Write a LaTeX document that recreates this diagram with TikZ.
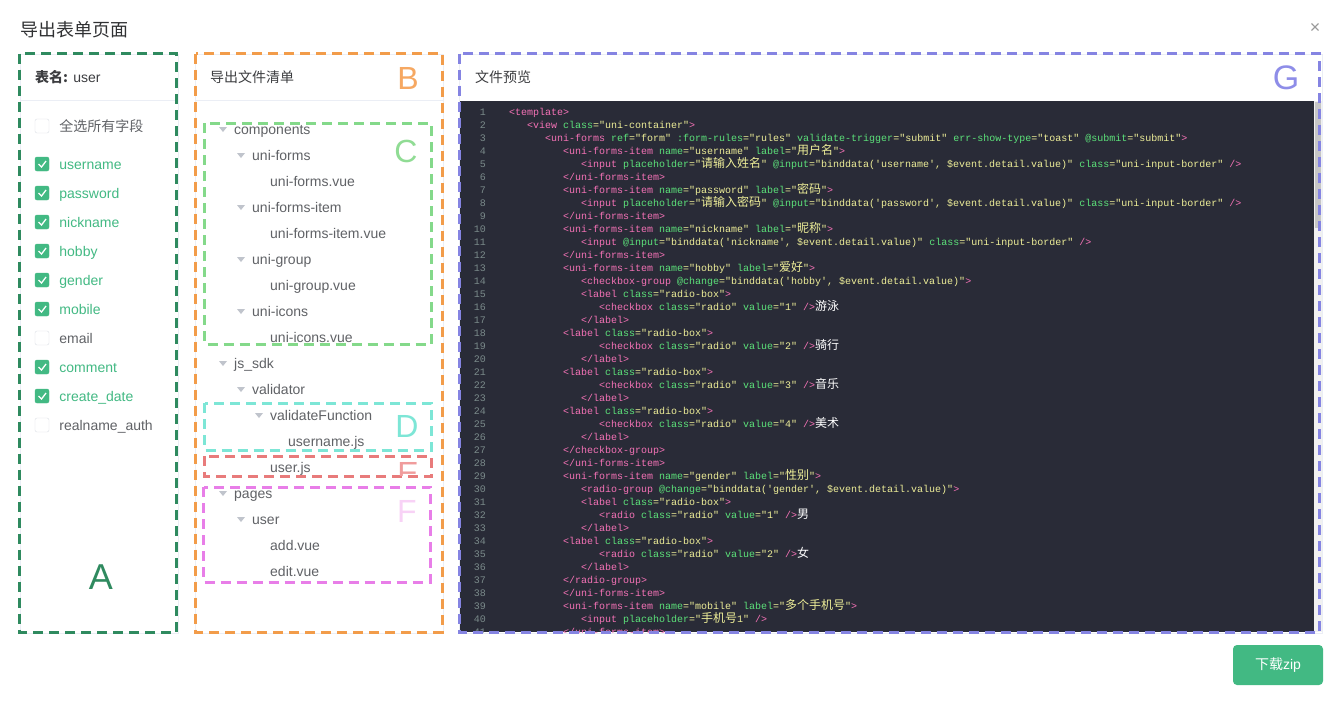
\documentclass[tikz,border=0pt]{standalone}
\usepackage{fontspec}
\setmainfont{Liberation Sans}
\setmonofont{Liberation Mono}
\newfontfamily\cjk{Noto Sans CJK SC}
\usepackage{xcolor}
\usepackage{tikz}
\usetikzlibrary{positioning}
\definecolor{dlgtitle}{HTML}{303133}
\definecolor{hdrgray}{HTML}{3C3D40}
\definecolor{txtgray}{HTML}{606266}
\definecolor{linegray}{HTML}{EBEEF5}
\definecolor{cbborder}{HTML}{DCDFE6}
\definecolor{arrowgray}{HTML}{C0C4CC}
\definecolor{vuegreen}{HTML}{42B983}
\definecolor{zoneA}{HTML}{2F8A5F}
\definecolor{zoneB}{HTML}{F29C4A}
\definecolor{zoneC}{HTML}{84D98A}
\definecolor{zoneD}{HTML}{7DE6D6}
\definecolor{zoneE}{HTML}{E87B7B}
\definecolor{zoneF}{HTML}{E87EE8}
\definecolor{zoneG}{HTML}{8584E2}
\definecolor{letB}{HTML}{F6A862}
\definecolor{letC}{HTML}{90DC94}
\definecolor{letE}{HTML}{F09C9C}
\definecolor{letF}{HTML}{F8D2F6}
\definecolor{letG}{HTML}{8E8DE8}
\definecolor{codebg}{HTML}{292B37}
\definecolor{codenum}{HTML}{7A8A8A}
\definecolor{codetag}{HTML}{F472B6}
\definecolor{codeattr}{HTML}{5CE27A}
\definecolor{codestr}{HTML}{EEEE98}
\definecolor{scrolltrack}{HTML}{F1F1F1}
\definecolor{scrollthumb}{HTML}{C6C6C6}

\newcommand\zh[1]{{\cjk\fontsize{12}{13}\selectfont #1}}
\newcommand\wzh[1]{\textcolor{white}{\zh{#1}}}
\newcommand\ctag[1]{\textcolor{codetag}{#1}}
\newcommand\cattr[1]{\textcolor{codeattr}{#1}}
\newcommand\codeln[3]{\node[codetxt] (c#1) at ({509+18*#2},{102+13*#1}) {#3};}

\begin{document}
\begin{tikzpicture}[x=1pt, y=-1pt,
  card/.style={draw=linegray, line width=1pt},
  zone/.style={draw=#1, line width=3pt, dash pattern=on 10pt off 6pt},
  zonelabel/.style={text=#1, inner sep=0, font=\fontsize{32}{32}\selectfont},
  uitxt/.style={anchor=west, inner sep=0, text height=11pt, text depth=0pt,
    font=\fontsize{14}{16}\selectfont, text=txtgray},
  header/.style={uitxt, text=hdrgray},
  cbox/.style={minimum size=14pt, inner sep=0, rounded corners=2pt},
  cbon/.style={cbox, fill=vuegreen, draw=vuegreen},
  cboff/.style={cbox, fill=white, draw=cbborder},
  lineno/.style={anchor=base east, inner sep=0, text=codenum,
    font=\ttfamily\fontsize{10}{12}\selectfont},
  codetxt/.style={anchor=base west, inner sep=0, text=codestr,
    font=\ttfamily\fontsize{10}{12}\selectfont},
  btn/.style={fill=vuegreen, rounded corners=4pt, minimum width=90pt,
    minimum height=40pt, text=white, font=\fontsize{14}{16}\selectfont}]

  \path[use as bounding box, fill=white] (0,0) rectangle (1341,713);

  % dialog title
  \node[anchor=west, inner sep=0, text=dlgtitle, font=\fontsize{18}{20}\selectfont]
    (title) at (20,30) {\cjk 导出表单页面};
  \node[inner sep=0, text=gray!80, font=\fontsize{18}{18}\selectfont] (close) at (1315,28) {×};

  % cards
  \draw[card] (20,54) rectangle (178,633);
  \draw[card] (195,54) rectangle (443,633);
  \draw[card] (459,54) rectangle (1322,633);
  \draw[linegray] (20,100.5) -- (178,100.5);
  \draw[linegray] (195,100.5) -- (443,100.5);

  % headers
  \node[header] (hdA) at (35,77) {{\cjk\bfseries 表名:} user};
  \node[header] (hdB) at (210,77) {\cjk 导出文件清单};
  \node[header] (hdG) at (475,77) {\cjk 文件预览};

  % field list
  \node[cboff] (cball) at (42,126) {};
  \node[uitxt, right=10pt of cball] (fdall) {\cjk 全选所有字段};
  \foreach \i/\fld/\on in {0/username/1, 1/password/1, 2/nickname/1, 3/hobby/1,
      4/gender/1, 5/mobile/1, 6/email/0, 7/comment/1, 8/create\_date/1, 9/realname\_auth/0} {
    \ifnum\on=1
      \node[cbon] (cb\i) at (42,{164+29*\i}) {};
      \draw[white, line width=1.3pt] ([shift={(-3.5,0)}]cb\i.center) -- ++(3,3) -- ++(4.5,-6);
      \node[uitxt, text=vuegreen, right=10pt of cb\i] (fd\i) {\fld};
    \else
      \node[cboff] (cb\i) at (42,{164+29*\i}) {};
      \node[uitxt, right=10pt of cb\i] (fd\i) {\fld};
    \fi
  }

  % file tree
  \foreach \i/\lvl/\fld/\isopen in {0/0/components/1, 1/1/uni-forms/1, 2/2/uni-forms.vue/0,
      3/1/uni-forms-item/1, 4/2/uni-forms-item.vue/0, 5/1/uni-group/1, 6/2/uni-group.vue/0,
      7/1/uni-icons/1, 8/2/uni-icons.vue/0, 9/0/js\_sdk/1, 10/1/validator/1,
      11/2/validateFunction/1, 12/3/username.js/0, 13/2/user.js/0, 14/0/pages/1,
      15/1/user/1, 16/2/add.vue/0, 17/2/edit.vue/0} {
    \node[uitxt] (f\i) at ({234+18*\lvl},{129+26*\i}) {\fld};
    \ifnum\isopen=1
      \fill[arrowgray] ([shift={(-15,-2)}]f\i.west) -- ++(8,0) -- ++(-4,5) -- cycle;
    \fi
  }

  % code preview
  \fill[codebg] (460,101) rectangle (1314,632);
  \fill[scrolltrack] (1314,101) rectangle (1322,632);
  \fill[scrollthumb] (1315,102) rectangle (1321,228);
  \begin{scope}
    \clip (460,101) rectangle (1314,632);
    \foreach \k in {1,...,41}
      \node[lineno] (n\k) at (486,{102+13*\k}) {\k};
    \codeln{1}{0}{\ctag{<template>}}
    \codeln{2}{1}{\ctag{<view} \cattr{class}="uni-container"\ctag{>}}
    \codeln{3}{2}{\ctag{<uni-forms} \cattr{ref}="form" \cattr{:form-rules}="rules" \cattr{validate-trigger}="submit" \cattr{err-show-type}="toast" \cattr{@submit}="submit"\ctag{>}}
    \codeln{4}{3}{\ctag{<uni-forms-item} \cattr{name}="username" \cattr{label}="\zh{用户名}"\ctag{>}}
    \codeln{5}{4}{\ctag{<input} \cattr{placeholder}="\zh{请输入姓名}" \cattr{@input}="binddata('username', \$event.detail.value)" \cattr{class}="uni-input-border" \ctag{/>}}
    \codeln{6}{3}{\ctag{</uni-forms-item>}}
    \codeln{7}{3}{\ctag{<uni-forms-item} \cattr{name}="password" \cattr{label}="\zh{密码}"\ctag{>}}
    \codeln{8}{4}{\ctag{<input} \cattr{placeholder}="\zh{请输入密码}" \cattr{@input}="binddata('password', \$event.detail.value)" \cattr{class}="uni-input-border" \ctag{/>}}
    \codeln{9}{3}{\ctag{</uni-forms-item>}}
    \codeln{10}{3}{\ctag{<uni-forms-item} \cattr{name}="nickname" \cattr{label}="\zh{昵称}"\ctag{>}}
    \codeln{11}{4}{\ctag{<input} \cattr{@input}="binddata('nickname', \$event.detail.value)" \cattr{class}="uni-input-border" \ctag{/>}}
    \codeln{12}{3}{\ctag{</uni-forms-item>}}
    \codeln{13}{3}{\ctag{<uni-forms-item} \cattr{name}="hobby" \cattr{label}="\zh{爱好}"\ctag{>}}
    \codeln{14}{4}{\ctag{<checkbox-group} \cattr{@change}="binddata('hobby', \$event.detail.value)"\ctag{>}}
    \codeln{15}{4}{\ctag{<label} \cattr{class}="radio-box"\ctag{>}}
    \codeln{16}{5}{\ctag{<checkbox} \cattr{class}="radio" \cattr{value}="1" \ctag{/>}\wzh{游泳}}
    \codeln{17}{4}{\ctag{</label>}}
    \codeln{18}{3}{\ctag{<label} \cattr{class}="radio-box"\ctag{>}}
    \codeln{19}{5}{\ctag{<checkbox} \cattr{class}="radio" \cattr{value}="2" \ctag{/>}\wzh{骑行}}
    \codeln{20}{4}{\ctag{</label>}}
    \codeln{21}{3}{\ctag{<label} \cattr{class}="radio-box"\ctag{>}}
    \codeln{22}{5}{\ctag{<checkbox} \cattr{class}="radio" \cattr{value}="3" \ctag{/>}\wzh{音乐}}
    \codeln{23}{4}{\ctag{</label>}}
    \codeln{24}{3}{\ctag{<label} \cattr{class}="radio-box"\ctag{>}}
    \codeln{25}{5}{\ctag{<checkbox} \cattr{class}="radio" \cattr{value}="4" \ctag{/>}\wzh{美术}}
    \codeln{26}{4}{\ctag{</label>}}
    \codeln{27}{3}{\ctag{</checkbox-group>}}
    \codeln{28}{3}{\ctag{</uni-forms-item>}}
    \codeln{29}{3}{\ctag{<uni-forms-item} \cattr{name}="gender" \cattr{label}="\zh{性别}"\ctag{>}}
    \codeln{30}{4}{\ctag{<radio-group} \cattr{@change}="binddata('gender', \$event.detail.value)"\ctag{>}}
    \codeln{31}{4}{\ctag{<label} \cattr{class}="radio-box"\ctag{>}}
    \codeln{32}{5}{\ctag{<radio} \cattr{class}="radio" \cattr{value}="1" \ctag{/>}\wzh{男}}
    \codeln{33}{4}{\ctag{</label>}}
    \codeln{34}{3}{\ctag{<label} \cattr{class}="radio-box"\ctag{>}}
    \codeln{35}{5}{\ctag{<radio} \cattr{class}="radio" \cattr{value}="2" \ctag{/>}\wzh{女}}
    \codeln{36}{4}{\ctag{</label>}}
    \codeln{37}{3}{\ctag{</radio-group>}}
    \codeln{38}{3}{\ctag{</uni-forms-item>}}
    \codeln{39}{3}{\ctag{<uni-forms-item} \cattr{name}="mobile" \cattr{label}="\zh{多个手机号}"\ctag{>}}
    \codeln{40}{4}{\ctag{<input} \cattr{placeholder}="\zh{手机号}1" \ctag{/>}}
    \codeln{41}{3}{\ctag{</uni-forms-item>}}
  \end{scope}

  % marked zones
  \draw[zone=zoneA] (19.5,53.5) rectangle (176.5,632);
  \draw[zone=zoneB] (195.5,53.5) rectangle (442,632);
  \draw[zone=zoneC] (204.5,123) rectangle (431,344);
  \draw[zone=zoneD] (204.5,403) rectangle (431,450);
  \draw[zone=zoneE] (204.5,456) rectangle (431,476.5);
  \draw[zone=zoneF] (203.5,487) rectangle (430.5,582);
  \draw[zone=zoneG] (459,53.5) rectangle (1319.5,632);

  \node[zonelabel=zoneA, font=\fontsize{36}{36}\selectfont] (lA) at (101,577) {A};
  \node[zonelabel=letB] (lB) at (408,78) {B};
  \node[zonelabel=letC] (lC) at (406,151) {C};
  \node[zonelabel=zoneD] (lD) at (407,426) {D};
  \begin{scope}
    \clip (204.5,456) rectangle (431,475);
    \node[zonelabel=letE] (lE) at (408,473.5) {E};
  \end{scope}
  \node[zonelabel=letF] (lF) at (407,511) {F};
  \node[zonelabel=letG, font=\fontsize{34}{34}\selectfont] (lG) at (1286,78) {G};

  % download button
  \node[btn] (zip) at (1278,665) {{\cjk 下载}zip};

\end{tikzpicture}
\end{document}
